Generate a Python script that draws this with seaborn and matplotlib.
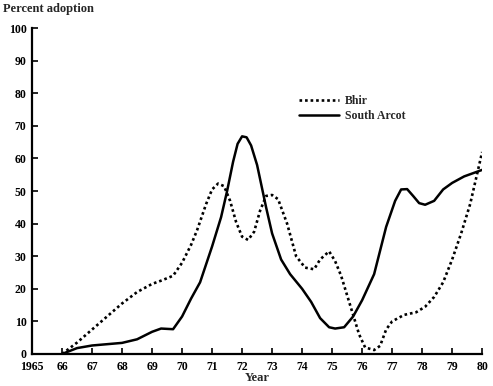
import matplotlib
matplotlib.use("Agg")
import matplotlib.pyplot as plt
import seaborn as sns
import pandas as pd

# Bhir (dotted)
bhir_x = [66.0, 66.5, 67.0, 67.5, 68.0, 68.5, 69.0, 69.3, 69.7, 70.0, 70.3, 70.5, 70.8, 71.0, 71.2, 71.4,
          71.6, 71.8, 72.0, 72.2, 72.4, 72.6, 72.8, 73.0, 73.2, 73.5, 73.8, 74.1, 74.4, 74.6, 74.9, 75.1,
          75.3, 75.6, 75.9, 76.1, 76.4, 76.6, 76.8, 77.0, 77.4, 77.8, 78.1, 78.4, 78.7, 79.0, 79.3, 79.6, 80.0]
bhir_y = [0.0, 3.5, 7.5, 11.5, 15.5, 19.0, 21.5, 22.5, 24.0, 28.0, 33.5, 38.0, 46.0, 50.5, 52.3, 51.5,
          47.0, 40.5, 36.0, 35.0, 37.5, 44.0, 48.5, 48.8, 47.5, 40.0, 30.0, 26.5, 26.0, 29.0, 31.5, 28.5,
          24.0, 15.0, 6.0, 2.0, 1.2, 2.5, 7.5, 10.0, 12.0, 12.8, 14.5, 17.5, 22.0, 29.0, 37.0, 46.0, 62.0]

# South Arcot (solid)
arcot_x = [66.0, 66.5, 67.0, 67.5, 68.0, 68.5, 69.0, 69.3, 69.7, 70.0, 70.3, 70.6, 71.0, 71.3, 71.5,
           71.7, 71.85, 72.0, 72.15, 72.3, 72.5, 72.8, 73.0, 73.3, 73.6, 74.0, 74.3, 74.6, 74.9, 75.1, 75.4,
           75.7, 76.0, 76.4, 76.8, 77.1, 77.3, 77.5, 77.7, 77.9, 78.1, 78.4, 78.7, 79.0, 79.4, 80.0]
arcot_y = [0.0, 1.8, 2.6, 3.0, 3.4, 4.5, 6.8, 7.8, 7.6, 11.5, 17.0, 22.0, 33.0, 42.0, 50.0,
           59.0, 64.5, 66.8, 66.5, 64.0, 58.0, 45.0, 37.0, 29.0, 24.5, 20.0, 16.0, 11.0, 8.2, 7.8, 8.2,
           11.5, 16.5, 24.5, 39.0, 47.0, 50.5, 50.6, 48.5, 46.3, 45.8, 47.0, 50.5, 52.5, 54.5, 56.5]

y_ticks = list(range(0, 101, 10))
x_ticks = list(range(65, 81))
x_labels = ["1965"] + [str(v) for v in range(66, 81)]

sns.set_theme(style="ticks")
plt.rcParams["font.family"] = ["Liberation Serif", "DejaVu Serif"]

fig = plt.figure(figsize=(4.93, 3.86), dpi=100)
ax = fig.add_axes([0.065, 0.083, 0.913, 0.844])

df_b = pd.DataFrame({"Year": bhir_x, "Pct": bhir_y})
df_a = pd.DataFrame({"Year": arcot_x, "Pct": arcot_y})
sns.lineplot(data=df_b, x="Year", y="Pct", ax=ax, color="black", linestyle=(0, (1, 1.1)),
             linewidth=1.9, sort=False, label="Bhir")
sns.lineplot(data=df_a, x="Year", y="Pct", ax=ax, color="black", linestyle="-",
             linewidth=1.8, sort=False, label="South Arcot")

ax.set_xlim(65, 80)
ax.set_ylim(0, 100)
ax.set_xticks(x_ticks)
ax.set_xticklabels(x_labels)
ax.set_yticks(y_ticks)
ax.set_yticklabels([str(v) for v in y_ticks])
ax.tick_params(direction="in", length=4, width=1.2, labelsize=8.5, colors="black")
ax.tick_params(axis="x", pad=5)
ax.tick_params(axis="y", pad=4)
for lbl in ax.get_xticklabels() + ax.get_yticklabels():
    lbl.set_fontweight("bold")
for s in ["top", "right"]:
    ax.spines[s].set_visible(False)
for s in ["left", "bottom"]:
    ax.spines[s].set_linewidth(1.6)
    ax.spines[s].set_color("black")

ax.set_xlabel("Year", fontsize=9, fontweight="bold", labelpad=-1)
ax.set_ylabel("")
fig.text(0.006, 0.976, "Percent adoption", fontsize=9, fontweight="bold", ha="left", va="center")

leg = ax.legend(loc="upper left", bbox_to_anchor=(0.58, 0.812), frameon=False, fontsize=8.5,
                handlelength=3.4, handletextpad=0.5, labelspacing=0.2, borderpad=0)
for t in leg.get_texts():
    t.set_fontweight("bold")

fig.savefig("out.png", dpi=100)
